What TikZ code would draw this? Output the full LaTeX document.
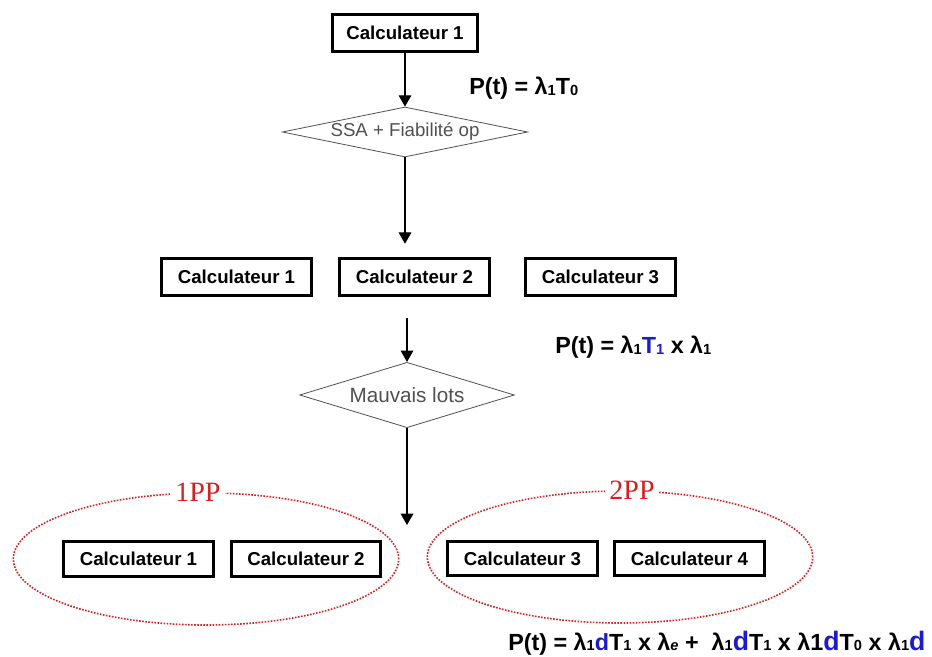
\documentclass[tikz,border=0pt]{standalone}
\usepackage{fontspec}
\setmainfont{Liberation Sans}
\newfontfamily\ppfont{Liberation Serif}
\usetikzlibrary{arrows.meta,positioning,shapes.geometric}
\definecolor{fb}{HTML}{1c1cc8}
\definecolor{fr}{HTML}{d42020}
\definecolor{dg}{HTML}{505050}
\newcommand{\lsub}[1]{\raisebox{-0.5pt}{\fontsize{11}{11}\selectfont#1}}
\newcommand{\bigd}{{\fontsize{20}{20}\selectfont\textcolor{fb}{d}}}

\begin{document}
\begin{tikzpicture}[x=0.75pt,y=-0.75pt,
  block/.style={rectangle,draw=black,fill=white,line width=2.4pt,minimum width=112pt,minimum height=27.5pt,inner sep=2pt,font=\fontsize{14}{16}\selectfont\bfseries},
  decision/.style={diamond,draw=dg,line width=0.6pt,inner sep=0pt,text=dg,font=\fontsize{14}{16}\selectfont},
  group/.style={ellipse,draw=fr,line width=1.2pt,dash pattern=on 1.2pt off 1.1pt,minimum width=289pt,minimum height=99pt},
  grouplabel/.style={fill=white,inner sep=3pt,text=fr,font=\ppfont\fontsize{21}{22}\selectfont},
  formula/.style={anchor=west,inner sep=0pt,font=\fontsize{17.5}{19}\selectfont\bfseries},
  arrow/.style={-{Triangle[length=8.5pt,width=9.5pt]},line width=0.8pt}]
\useasboundingbox (0,0) rectangle (932,657);
\node[block,minimum width=109pt](top) at (405,33){Calculateur 1};
\node[decision,aspect=4.9,minimum width=184pt,minimum height=37.5pt](ssa) at (405,132){SSA + Fiabilité op};
\node[block](mid1) at (236.5,277){Calculateur 1};
\node[block](mid2) at (414.5,277){Calculateur 2};
\node[block](mid3) at (600.5,277){Calculateur 3};
\node[decision,aspect=3.3,minimum width=161pt,minimum height=49pt,font=\fontsize{15.5}{17}\selectfont](lots) at (407,395){Mauvais lots};
\coordinate(split) at (407,525);
% groupes de production
\node[group](pp1) at (206,559){};
\node[group](pp2) at (620,557){};
\node[grouplabel] at (pp1.north -| 198,0){1PP};
\node[grouplabel] at (pp2.north -| 632,0){2PP};
\node[block,minimum height=26pt](low1) at (138.5,559){Calculateur 1};
\node[block,minimum height=26pt](low2) at (306,559){Calculateur 2};
\node[block,minimum height=26pt](low3) at (522.5,558.5){Calculateur 3};
\node[block,minimum height=26pt](low4) at (689.5,558.5){Calculateur 4};
% formules
\node[formula](f0) at (469,88){P(t) = λ\lsub{1}T\lsub{0}};
\node[formula](f1) at (555,347){P(t) = λ\lsub{1}\textcolor{fb}{T\lsub{1}} x λ\lsub{1}};
\node[formula](f2) at (508,643){P(t) = λ\lsub{1}\textcolor{fb}{d}T\lsub{1} x λ\lsub{\itshape e} + \ λ\lsub{1}\bigd T\lsub{1} x λ1\bigd T\lsub{0} x λ\lsub{1}\bigd};
\draw[arrow](top)--(ssa);
\draw[arrow,shorten >=10pt](ssa.south)--(ssa.south |- mid2.north);
\draw[arrow,shorten <=16pt](mid2.south -| lots.north)--(lots.north);
\draw[arrow](lots.south)--(split);
\end{tikzpicture}
\end{document}
